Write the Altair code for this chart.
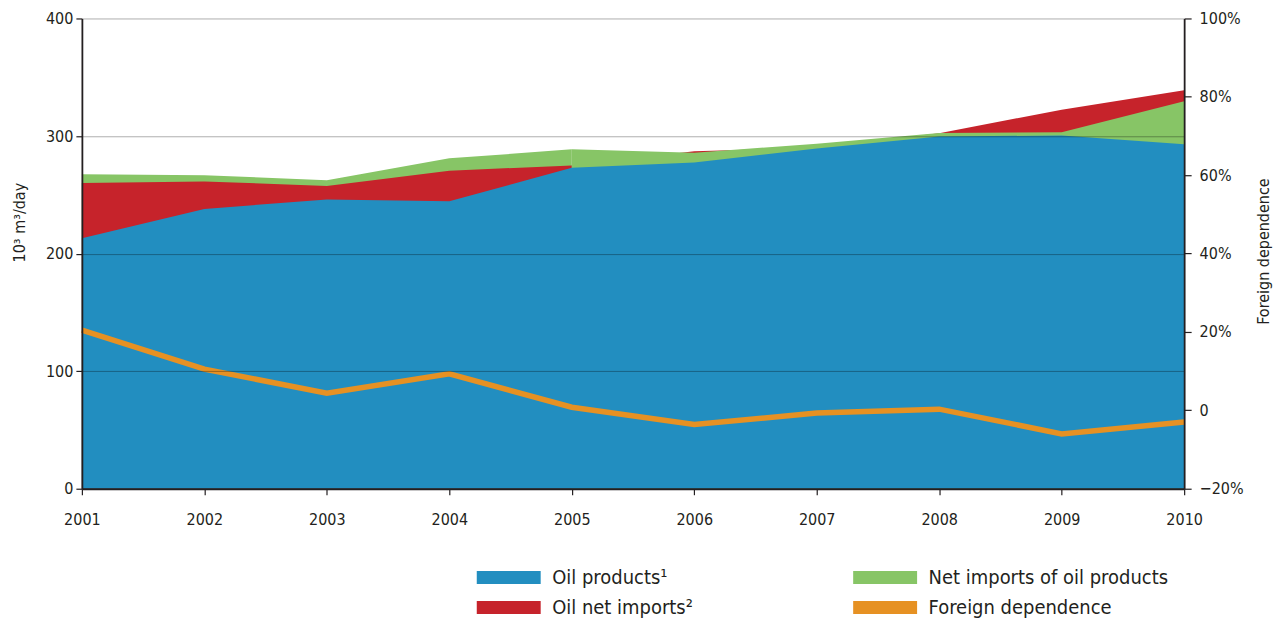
import altair as alt
import pandas as pd

# ---- data ----
years = [2001, 2002, 2003, 2004, 2005, 2006, 2007, 2008, 2009, 2010]
# upper edge of each coloured band (10^3 m3/day)
oil_products = [213, 238, 246, 244.5, 273, 277.5, 289.5, 299.5, 300.5, 293]
oil_net_imports_level = [260, 261.3, 257.6, 270.5, 275, 287, 290, 302.3, 322.4, 339]
net_imports_products_level = [267.5, 266.7, 262.4, 281, 288.7, 285.8, 293.5, 302.6, 303.2, 329.5]
# foreign dependence (share)
foreign_dependence = [0.205, 0.105, 0.044, 0.093, 0.008, -0.036, -0.007, 0.003, -0.060, -0.030]

# legend order (column by column)
series_names = ["Oil products¹", "Oil net imports²", "Net imports of oil products", "Foreign dependence"]
series_colors = ["#228ec0", "#c6232b", "#87c566", "#e69123"]
BLUE, RED, GREEN, ORANGE = series_colors

df = pd.DataFrame({
    "year": years,
    "B": oil_products,
    "R": oil_net_imports_level,
    "G": net_imports_products_level,
    "fd": foreign_dependence,
})
early = df[df["year"] <= 2005]
late = df[df["year"] >= 2005]

FONT = "'DejaVu Sans Condensed', 'Liberation Sans Narrow', 'DejaVu Sans', sans-serif"
INK = "#231f20"

color_scale = alt.Scale(domain=series_names, range=series_colors)
# swatch 64 x 13 px: layout size 13 px, path extends to the right
legend = alt.Legend(
    orient="none", legendX=392, legendY=550, columns=2, gridAlign="each",
    columnPadding=156, rowPadding=10, title=None,
    symbolType="M-1,-1H8.85V1H-1Z", symbolSize=169, symbolStrokeWidth=0,
    labelFont=FONT, labelFontSize=20, labelColor=INK, labelOffset=59,
    labelLimit=500, symbolOpacity=1,
)

x_enc = alt.X(
    "year:Q",
    scale=alt.Scale(domain=[2001, 2010], nice=False, zero=False),
    axis=alt.Axis(
        values=[2001 + 0.5 * i for i in range(19)], format="d",
        labelExpr="datum.value % 1 ? '' : datum.label",
        labelFlush=False, labelOverlap=False, grid=False, title=None,
        tickSize=6, labelPadding=17, zindex=1,
    ),
)
y_axis = alt.Axis(
    values=[0, 100, 200, 300, 400], title="10³ m³/day", grid=True,
    gridColor="#000000", gridOpacity=0.32, gridWidth=1,
    tickSize=6, labelPadding=3, zindex=1,
    titleAngle=270, titleX=-62, titleY=204, titleBaseline="middle",
)
y_scale = alt.Scale(domain=[0, 400], nice=False)


def band(data, field, name):
    return alt.Chart(data).transform_calculate(
        series=f"'{name}'"
    ).mark_area(opacity=1, interpolate="linear").encode(
        x=x_enc,
        y=alt.Y(f"{field}:Q", scale=y_scale, axis=y_axis, stack=None),
        color=alt.Color("series:N", scale=color_scale, legend=legend),
    )


areas = alt.layer(
    band(early, "G", "Net imports of oil products"),
    band(early, "R", "Oil net imports²"),
    band(late, "R", "Oil net imports²"),
    band(late, "G", "Net imports of oil products"),
    band(df, "B", "Oil products¹"),
)

line = alt.Chart(df).mark_line(strokeWidth=5.5, color=ORANGE).encode(
    x=x_enc,
    y=alt.Y(
        "fd:Q",
        scale=alt.Scale(domain=[-0.2, 1.0], nice=False),
        axis=alt.Axis(
            orient="right", values=[-0.2, 0, 0.2, 0.4, 0.6, 0.8, 1.0], format=".0%",
            labelExpr="datum.value == 0 ? '0' : datum.label", grid=False,
            title="Foreign dependence", tickSize=7, labelPadding=8, zindex=1,
            titleAngle=270, titleX=79, titleY=233, titleBaseline="middle",
        ),
    ),
)

chart = alt.layer(areas, line).resolve_scale(y="independent").properties(
    width=1104, height=471,
    autosize=alt.AutoSizeParams(type="none"),
    padding={"left": 74, "top": 10, "right": 95, "bottom": 134},
).configure_view(stroke=None).configure_axis(
    labelFont=FONT, labelFontSize=16, labelColor=INK,
    titleFont=FONT, titleFontSize=16, titleColor=INK, titleFontWeight="normal",
    domainColor=INK, domainWidth=1.8, tickColor=INK, tickWidth=1.2,
)

chart.save("out.html", embed_options={"renderer": "svg", "actions": False})
